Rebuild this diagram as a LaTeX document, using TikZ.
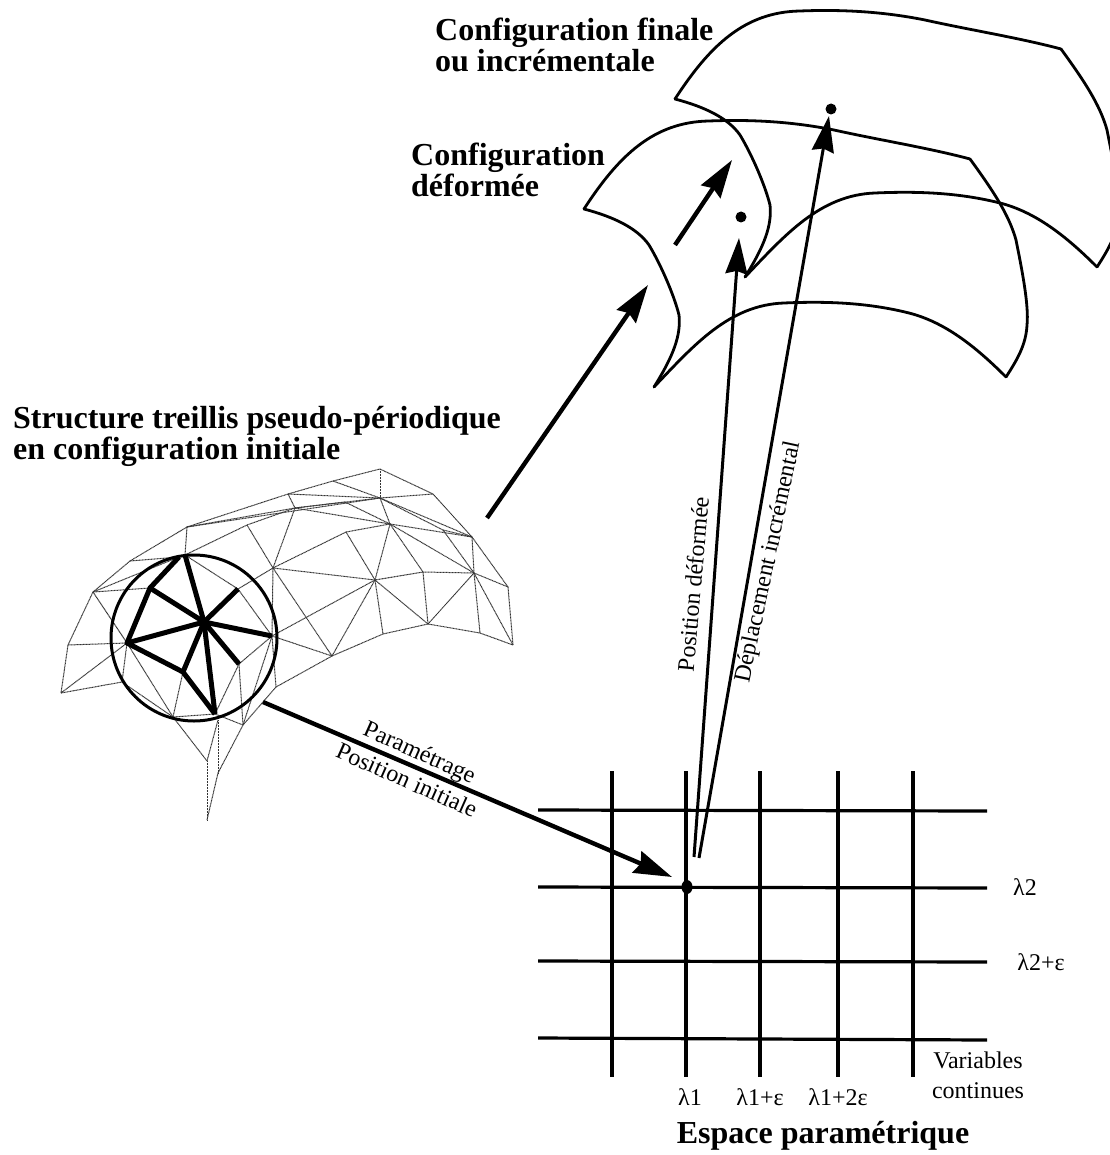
\documentclass[tikz,border=0pt]{standalone}
\usepackage{fontspec}
\setmainfont{Liberation Serif}
\usetikzlibrary{arrows.meta,shapes.geometric}

\tikzset{
    meshline/.style={line width=1pt, black!80, dash pattern=on 1pt off 0.5pt},
    starbar/.style={line width=5pt, line join=round},
    gridline/.style={line width=3.2pt},
    surfline/.style={line width=2.8pt, line cap=round},
    bigarrow/.style={line width=4.4pt, -{Stealth[length=38pt,width=23pt,inset=4pt]}},
    thinarrow/.style={line width=3pt, -{Stealth[length=36pt,width=22pt,inset=3pt]}},
    headline/.style={font=\bfseries\fontsize{32}{31}\selectfont, align=left, anchor=west, inner sep=0pt},
    headmid/.style={font=\bfseries\fontsize{32}{33}\selectfont, inner sep=0pt},
    smalltext/.style={font=\fontsize{24}{30}\selectfont, inner sep=0pt},
    surface/.pic={
        \draw[surfline] (675,99) .. controls (710,45) and (745,12) .. (800,11) .. controls (850,9) and (890,13) .. (925,20) .. controls (970,30) and (1020,38) .. (1061,49);
        \draw[surfline] (1061,49) .. controls (1085,82) and (1100,105) .. (1107,130) .. controls (1113,160) and (1120,195) .. (1118,215) .. controls (1117,235) and (1108,250) .. (1097,267);
        \draw[surfline] (675,99) .. controls (705,107) and (728,118) .. (740,135) .. controls (752,155) and (765,185) .. (770,205) .. controls (772,225) and (765,245) .. (745,277);
        \draw[surfline] (745,277) .. controls (785,235) and (820,195) .. (875,193) .. controls (920,191) and (960,193) .. (1000,203) .. controls (1035,212) and (1065,235) .. (1097,267);
    }
}

\begin{document}
\begin{tikzpicture}[x=1pt, y=-1pt]
    \useasboundingbox (0,0) rectangle (1109,1155);

    % Lattice vertices
    \foreach \name/\px/\py in {a/187/527, b/130/561, c/93/592, d/68/645, e/61/693, f/127/643,
        j/122/682, k/173/717, l/183/672, m/215/714, n/239/664, o/243/725, p/207/761, q/207/820,
        r/218/773, s/218/720, g/150/588, h/179/557, i/185/555, star/204/622, t/238/589, u/272/636,
        aa/288/494, ab/333/481, ac/380/469, ad/433/494, ae/472/537, af/508/587, ag/513/645,
        ba/295/508, bb/345/502, bc/380/498, bd/390/524, be/443/530, ca/247/525, cb/273/568,
        cc/346/532, da/375/580, db/423/572, dc/474/573, eb/332/656, ec/383/634, ed/428/624,
        ee/480/633, fa/276/687}
        \coordinate (\name) at (\px,\py);

    % Lattice edges
    \foreach \from/\to in {a/b, b/c, c/d, d/e, d/f, e/f, e/j, j/f, j/k, c/f, c/g, c/h, b/h,
        a/i, a/aa, aa/ab, ab/ac, ac/ad, ad/ae, ae/af, af/ag, f/k, k/l, k/m, k/p, p/s, p/q,
        q/r, s/r, r/o, m/o, n/m, n/o, u/n, u/o, u/fa, fa/o, fa/eb, eb/ec, ec/ed, ed/ee, ee/ag,
        i/t, t/u, t/cb, i/ca, ca/ba, ca/cb, ba/cb, a/ba, a/bc, aa/ba, aa/bc, ab/bc, ba/bc,
        ac/bc, bc/ad, bc/bd, ba/bb, bb/bd, ba/bd, bc/ae, bc/be, be/ae, bd/ae, bd/dc, bd/db,
        bd/da, bd/cc, cc/cb, cc/da, be/dc, ae/dc, dc/af, dc/ag, dc/ee, dc/ed, dc/db, db/da,
        db/ed, da/ed, da/ec, da/eb, da/cb, da/u, cb/eb, cb/u, u/eb}
        \draw[meshline] (\from) -- (\to);

    % Circle and bold cell
    \node[draw, circle, line width=3pt, minimum size=166pt, inner sep=0pt] (cell) at (194,638) {};
    \foreach \to in {g, i, t, u, n, m, l, f}
        \draw[starbar] (star) -- (\to);
    \draw[starbar] (h) -- (g) -- (f) -- (l) -- (m);

    % Surfaces
    \pic at (0,0) {surface};
    \pic at (-91,110) {surface};

    % Points on the surfaces
    \fill (831,109) circle (5.5pt) coordinate (finalpt);
    \fill (741,217) circle (5.5pt) coordinate (deformpt);

    % Grid
    \foreach \gx/\gname in {612/va, 686/vb, 760/vc, 838/vd, 913/ve} {
        \coordinate (\gname top) at (\gx,771);
        \coordinate (\gname bot) at (\gx,1077);
        \draw[gridline] (\gname top) -- (\gname bot);
    }
    \foreach \gl/\gr/\gname in {810/811/ha, 887/888/hb, 961/962/hc, 1038/1040/hd} {
        \coordinate (\gname left) at (538,\gl);
        \coordinate (\gname right) at (987,\gr);
        \draw[gridline] (\gname left) -- (\gname right);
    }
    \node[fill, ellipse, minimum width=11pt, minimum height=14pt, inner sep=0pt] (origin) at (687,887) {};

    % Arrows
    \coordinate (latticeout) at (487,518);
    \coordinate (deformin) at (648,285);
    \coordinate (stepout) at (675,245);
    \coordinate (stepin) at (732,160);
    \coordinate (posbase) at (694,857);
    \coordinate (postip) at (739,238);
    \coordinate (dispbase) at (699,858);
    \coordinate (disptip) at (829,116);
    \coordinate (paramout) at (263,702);
    \coordinate (paramin) at (672,877);
    \draw[bigarrow] (latticeout) -- (deformin);
    \draw[bigarrow] (stepout) -- (stepin);
    \draw[thinarrow] (posbase) -- (postip);
    \draw[thinarrow] (dispbase) -- (disptip);
    \draw[bigarrow] (paramout) -- (paramin);

    % Labels
    \node[headline] (finaltxt) at (435,45) {Configuration finale\\ou incrémentale};
    \node[headline] (deformtxt) at (411,170) {Configuration\\déformée};
    \node[headline] (latticetxt) at (13,436) {Structure treillis pseudo-périodique\\en configuration initiale};
    \node[headmid] (spacetxt) at (823,1136) {Espace paramétrique};
    \node[smalltext, rotate=85] (postxt) at (693,584) {Position déformée};
    \node[smalltext, rotate=78] (disptxt) at (769,562) {Déplacement incrémental};
    \node[smalltext, rotate=-24] (paramtxt) at (419,754) {Paramétrage};
    \node[smalltext, rotate=-24] (inittxt) at (407,780) {Position initiale};
    \node[smalltext] (lamtwo) at (1025,887) {λ2};
    \node[smalltext] (lamtwoe) at (1041,962) {λ2+ε};
    \node[smalltext] (lamone) at (690,1097) {λ1};
    \node[smalltext] (lamonee) at (760,1097) {λ1+ε};
    \node[smalltext] (lamonetwo) at (838,1097) {λ1+2ε};
    \node[smalltext, align=center] (vartxt) at (978,1075) {Variables\\continues};
\end{tikzpicture}
\end{document}
